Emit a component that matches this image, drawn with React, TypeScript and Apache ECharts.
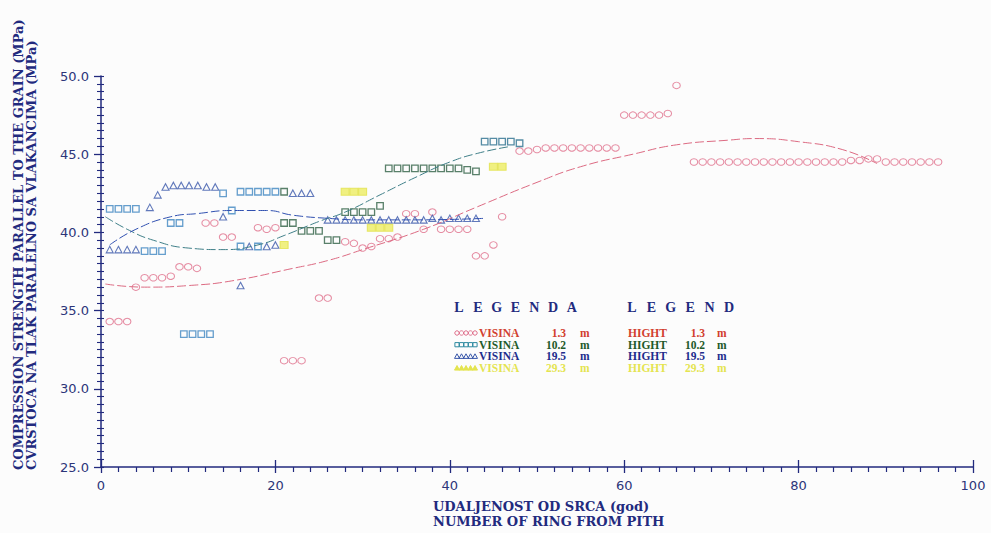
import { useEffect, useRef } from "react";
import * as echarts from "echarts";

type Pt = [number, number];

// Axis ticks
const ringTicks = [0, 20, 40, 60, 80, 100];
const strengthTicks = [25, 30, 35, 40, 45, 50];

// Compression strength (MPa) against ring number, by sampling height
const visina13: Pt[] = [
  [1, 34.3], [2, 34.3], [3, 34.3], [4, 36.5], [5, 37.1], [6, 37.1], [7, 37.1], [8, 37.2],
  [9, 37.8], [10, 37.8], [11, 37.7], [12, 40.6], [13, 40.6], [14, 39.7], [15, 39.7],
  [18, 40.3], [19, 40.2], [20, 40.3], [21, 31.8], [22, 31.8], [23, 31.8], [25, 35.8], [26, 35.8],
  [28, 39.4], [29, 39.3], [30, 39.0], [31, 39.1], [32, 39.6], [33, 39.6], [34, 39.7],
  [35, 41.2], [36, 41.2], [37, 40.2], [38, 41.3], [39, 40.2], [40, 40.2], [41, 40.2], [42, 40.2],
  [43, 38.5], [44, 38.5], [45, 39.2], [46, 41.0],
  [48, 45.2], [49, 45.2], [50, 45.3], [51, 45.4], [52, 45.4], [53, 45.4], [54, 45.4], [55, 45.4],
  [56, 45.4], [57, 45.4], [58, 45.4], [59, 45.4],
  [60, 47.5], [61, 47.5], [62, 47.5], [63, 47.5], [64, 47.5], [65, 47.6], [66, 49.4],
  [68, 44.5], [69, 44.5], [70, 44.5], [71, 44.5], [72, 44.5], [73, 44.5], [74, 44.5], [75, 44.5],
  [76, 44.5], [77, 44.5], [78, 44.5], [79, 44.5], [80, 44.5], [81, 44.5], [82, 44.5], [83, 44.5],
  [84, 44.5], [85, 44.5], [86, 44.6], [87, 44.6], [88, 44.7], [89, 44.7], [90, 44.5], [91, 44.5],
  [92, 44.5], [93, 44.5], [94, 44.5], [95, 44.5], [96, 44.5],
];

const visina102: Pt[] = [
  [1, 41.5], [2, 41.5], [3, 41.5], [4, 41.5], [5, 38.8], [6, 38.8], [7, 38.8],
  [8, 40.6], [9, 40.6], [9.5, 33.5], [10.5, 33.5], [11.5, 33.5], [12.5, 33.5],
  [14, 42.5], [15, 41.4], [16, 42.6], [17, 42.6], [18, 42.6], [19, 42.6], [20, 42.6], [21, 42.6],
  [16, 39.1], [18, 39.1],
  [21, 40.6], [22, 40.6], [23, 40.1], [24, 40.1], [25, 40.1], [26, 39.5], [27, 39.5],
  [28, 41.3], [29, 41.3], [30, 41.3], [31, 41.3], [32, 41.7],
  [33, 44.1], [34, 44.1], [35, 44.1], [36, 44.1], [37, 44.1], [38, 44.1], [39, 44.1], [40, 44.1],
  [41, 44.1], [42, 44.0], [43, 43.9],
  [44, 45.8], [45, 45.8], [46, 45.8], [47, 45.8], [48, 45.7],
];

const visina195: Pt[] = [
  [1, 38.9], [2, 38.9], [3, 38.9], [4, 38.9], [5.6, 41.6], [6.5, 42.4],
  [7.4, 42.9], [8.3, 43.0], [9.2, 43.0], [10.1, 43.0], [11.1, 43.0], [12.1, 42.9], [13.1, 42.9],
  [14, 41.0], [16, 36.6], [17, 39.1], [19, 39.1], [20, 39.2],
  [22, 42.5], [23, 42.5], [24, 42.5],
  [26, 40.8], [27, 40.8], [28, 40.8], [29, 40.8], [30, 40.8], [31, 40.8], [32, 40.8], [33, 40.8],
  [34, 40.8], [35, 40.8], [36, 40.8], [37, 40.8], [38, 40.9], [39, 40.8], [40, 40.9], [41, 40.9],
  [42, 40.9], [43, 40.9],
];

const visina293: Pt[] = [
  [21, 39.2], [28, 42.6], [29, 42.6], [30, 42.6], [31, 40.3], [32, 40.3], [33, 40.3],
  [45, 44.2], [46, 44.2],
];

// Fitted trend curves, sampled along each drawn curve
const fit13: Pt[] = [
  [0.5, 36.7], [5, 36.5], [10, 36.6], [15, 36.9], [22, 37.7], [26, 38.2], [30, 38.9],
  [37, 40.2], [43, 41.6], [50, 43.2], [55, 44.2], [61, 45.0], [66, 45.6], [72, 45.9],
  [75, 46.0], [80, 45.8], [85, 45.3], [89, 44.4],
];
const fit102: Pt[] = [
  [0.5, 41.0], [3, 40.2], [6, 39.5], [10, 39.0], [14, 38.9], [18, 39.2], [21, 39.8],
  [25, 40.7], [28, 41.3], [32, 42.4], [36, 43.5], [40, 44.5], [43.5, 45.1], [47, 45.5],
];
const fit195: Pt[] = [
  [1, 39.2], [4, 40.2], [8, 41.0], [11, 41.2], [15, 41.4], [19, 41.4], [22, 41.1],
  [26, 40.9], [30, 40.8], [36, 40.8], [44, 40.9],
];

// Legend and axis-title texts
const legendHeights = ["1.3", "10.2", "19.5", "29.3"];
const legendTitleHr = "LEGENDA";
const legendTitleEn = "LEGEND";
const yTitleEn = "COMPRESSION STRENGTH PARALLEL TO THE GRAIN (MPa)";
const yTitleHr = "CVRSTOCA NA TLAK PARALELNO SA VLAKANCIMA (MPa)";
const xTitleHr = "UDALJENOST OD SRCA (god)";
const xTitleEn = "NUMBER OF RING FROM PITH";

const NAVY = "#222a7e";
const PINK = "#e0708c";
const BLUE_SQ = "#3f86c0";
const GREEN_SQ = "#2f6045";
const TEAL_SQ = "#2a6f8f";
const TRI = "#3a58aa";
const YELLOW = "#ecec62";
const SERIF = '"Liberation Serif", "DejaVu Serif", serif';
const WIDE_SERIF = '"DejaVu Serif", "Liberation Serif", serif';

const rowText = ["#d2402f", "#1f5a2a", "#1e2d8c", "#e4e450"];
const rowMarker = [PINK, "#2f8aa0", TRI, "#e4e450"];
const rowShape = ["circle", "rect", "triangle", "triangle"];

function squareColor(x: number) {
  if (x < 20.5) return BLUE_SQ;
  if (x < 43.5) return GREEN_SQ;
  return TEAL_SQ;
}

function txt(text: string, x: number, y: number, fill: string, font: string, align = "left", extra: any = {}) {
  return {
    type: "text",
    x,
    y,
    silent: true,
    ...extra,
    style: {
      text,
      fill,
      font,
      textAlign: align,
      align,
      textVerticalAlign: "middle",
      verticalAlign: "middle",
    },
  };
}

function marker(shape: string, cx: number, cy: number, color: string) {
  if (shape === "circle") {
    return { type: "circle", silent: true, shape: { cx, cy, r: 2.2 }, style: { fill: "none", stroke: color, lineWidth: 1 } };
  }
  if (shape === "rect") {
    return { type: "rect", silent: true, shape: { x: cx - 2.1, y: cy - 2.1, width: 4.2, height: 4.2 }, style: { fill: "none", stroke: color, lineWidth: 1 } };
  }
  return {
    type: "polygon",
    silent: true,
    shape: { points: [[cx, cy - 2.6], [cx - 2.5, cy + 2], [cx + 2.5, cy + 2]] },
    style: { fill: color === "#e4e450" ? color : "none", stroke: color, lineWidth: 1 },
  };
}

function buildGraphic() {
  const els: any[] = [];
  const headFont = `bold 14px ${SERIF}`;
  legendTitleHr.split("").forEach((ch, i) => els.push(txt(ch, 459 + i * 18.8, 307, NAVY, headFont, "center")));
  legendTitleEn.split("").forEach((ch, i) => els.push(txt(ch, 632 + i * 19.4, 307, NAVY, headFont, "center")));

  const rowFont = `bold 11.5px ${SERIF}`;
  legendHeights.forEach((h, i) => {
    const y = 333 + i * 11.7;
    for (let k = 0; k < 5; k++) els.push(marker(rowShape[i], 457 + k * 4.5, y, rowMarker[i]));
    els.push(txt("VISINA", 479, y, rowText[i], rowFont));
    els.push(txt(h, 566, y, rowText[i], rowFont, "right"));
    els.push(txt("m", 580, y, rowText[i], rowFont));
    els.push(txt("HIGHT", 628, y, rowText[i], rowFont));
    els.push(txt(h, 705, y, rowText[i], rowFont, "right"));
    els.push(txt("m", 717, y, rowText[i], rowFont));
  });

  const titleFont = `bold 13px ${WIDE_SERIF}`;
  els.push(txt(yTitleEn, 18, 470, NAVY, titleFont, "left", { rotation: Math.PI / 2 }));
  els.push(txt(yTitleHr, 31.5, 470, NAVY, titleFont, "left", { rotation: Math.PI / 2 }));
  els.push(txt(xTitleHr, 433, 506, NAVY, titleFont));
  els.push(txt(xTitleEn, 433, 521, NAVY, titleFont));
  return els;
}

const curveLine = (color: string) => ({ color, width: 1, type: [9, 3] as number[] });

export default function App() {
  const ref = useRef<HTMLDivElement>(null);

  useEffect(() => {
    if (!ref.current) return;
    const chart = echarts.init(ref.current, undefined, { renderer: "svg" });
    const tickFont = { fontFamily: "DejaVu Sans", fontSize: 13, color: "#2c3579" };

    chart.setOption({
      animation: false,
      backgroundColor: "#fcfcfc",
      grid: { left: 101, right: 18, top: 76, bottom: 66 },
      xAxis: [
        {
          type: "value",
          min: ringTicks[0],
          max: ringTicks[ringTicks.length - 1],
          interval: 20,
          splitLine: { show: false },
          axisLine: { onZero: false, lineStyle: { color: NAVY, width: 1.5 } },
          axisTick: { show: true, inside: false, length: 6, lineStyle: { color: NAVY, width: 1.3 } },
          minorTick: { show: true, splitNumber: 10, length: 5, lineStyle: { color: NAVY, width: 1.2 } },
          axisLabel: { ...tickFont, margin: 12, formatter: (v: number) => String(v) },
        },
        {
          type: "value",
          position: "bottom",
          min: ringTicks[0],
          max: ringTicks[ringTicks.length - 1],
          interval: 20,
          splitLine: { show: false },
          axisLine: { show: false, onZero: false },
          axisTick: { show: true, inside: true, length: 7, lineStyle: { color: NAVY, width: 1.3 } },
          axisLabel: { show: false },
        },
      ],
      yAxis: [
        {
          type: "value",
          min: strengthTicks[0],
          max: strengthTicks[strengthTicks.length - 1],
          interval: 5,
          splitLine: { show: false },
          axisLine: { onZero: false, lineStyle: { color: NAVY, width: 1.5 } },
          axisTick: { show: true, inside: false, length: 7, lineStyle: { color: NAVY, width: 1.3 } },
          minorTick: { show: true, splitNumber: 10, length: 4, lineStyle: { color: NAVY, width: 1.1 } },
          axisLabel: { ...tickFont, margin: 12, formatter: (v: number) => v.toFixed(1) },
        },
        {
          type: "value",
          position: "left",
          min: strengthTicks[0],
          max: strengthTicks[strengthTicks.length - 1],
          interval: 5,
          splitLine: { show: false },
          axisLine: { show: false, onZero: false },
          axisTick: { show: true, inside: true, length: 3, lineStyle: { color: NAVY, width: 1.1 } },
          minorTick: { show: true, splitNumber: 10, length: 3, lineStyle: { color: NAVY, width: 1.1 } },
          axisLabel: { show: false },
        },
      ],
      series: [
        {
          type: "line",
          data: fit13,
          smooth: 0.5,
          showSymbol: false,
          lineStyle: curveLine("#dc6a82"),
          silent: true,
        },
        {
          type: "line",
          data: fit102,
          smooth: 0.5,
          showSymbol: false,
          lineStyle: curveLine("#3f7f88"),
          silent: true,
        },
        {
          type: "line",
          data: fit195,
          smooth: 0.5,
          showSymbol: false,
          lineStyle: curveLine("#3050b0"),
          silent: true,
        },
        {
          name: "VISINA 1.3 m",
          type: "scatter",
          data: visina13,
          symbol: "circle",
          symbolSize: [7.5, 6.5],
          itemStyle: { color: "rgba(0,0,0,0)", borderColor: PINK, borderWidth: 1 },
        },
        {
          name: "VISINA 10.2 m",
          type: "scatter",
          data: visina102.map((p) => ({
            value: p,
            itemStyle: { color: "rgba(0,0,0,0)", borderColor: squareColor(p[0]), borderWidth: 1.3 },
          })),
          symbol: "rect",
          symbolSize: [6.5, 6.5],
        },
        {
          name: "VISINA 19.5 m",
          type: "scatter",
          data: visina195,
          symbol: "triangle",
          symbolSize: [7, 6.5],
          itemStyle: { color: "rgba(0,0,0,0)", borderColor: TRI, borderWidth: 1.1 },
        },
        {
          name: "VISINA 29.3 m",
          type: "scatter",
          data: visina293,
          symbol: "rect",
          symbolSize: [8, 7],
          itemStyle: { color: YELLOW, borderColor: "#e2e24c", borderWidth: 1 },
        },
      ],
      graphic: buildGraphic(),
    });

    return () => chart.dispose();
  }, []);

  return (
    <div
      ref={ref}
      style={{ position: "fixed", left: 0, top: 0, width: 991, height: 533 }}
    />
  );
}
